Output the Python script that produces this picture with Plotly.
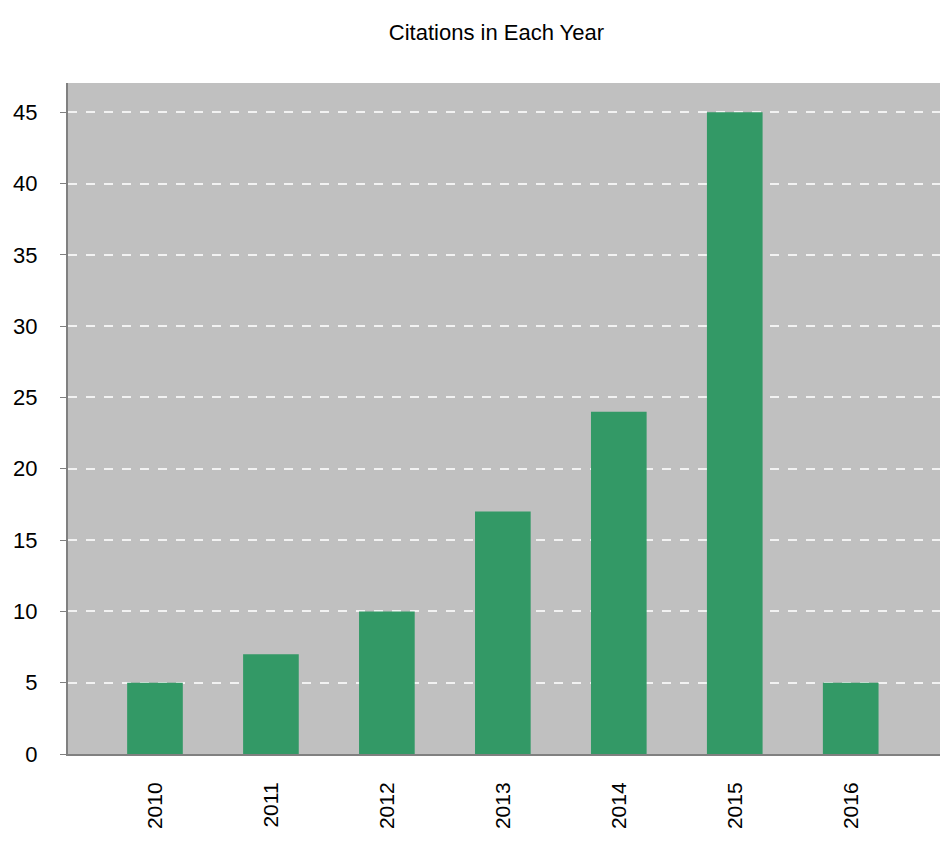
import plotly.graph_objects as go

years = ["2010", "2011", "2012", "2013", "2014", "2015", "2016"]
citations = [5, 7, 10, 17, 24, 45, 5]
y_ticks = [0, 5, 10, 15, 20, 25, 30, 35, 40, 45]

fig = go.Figure(go.Bar(x=years, y=citations, marker=dict(color="#339966", line=dict(width=0)), width=0.48))

fig.update_layout(
    width=942, height=841,
    margin=dict(l=68, r=2, t=83, b=87),
    paper_bgcolor="white",
    plot_bgcolor="#c0c0c0",
    font=dict(family="Liberation Sans, Arial, sans-serif", color="black"),
    title=dict(text="Citations in Each Year", x=0.527, xanchor="center", y=0.962, yanchor="middle",
               font=dict(size=22, color="black")),
    showlegend=False,
)
fig.update_xaxes(type="category", range=[-0.75, 6.77], tickangle=-90, tickfont=dict(size=21),
                 showline=True, linecolor="#808080", linewidth=2, ticks="", showgrid=False, ticklabelstandoff=18)
fig.update_yaxes(range=[0, 47.05], tickvals=y_ticks, tickfont=dict(size=22),
                 showline=True, linecolor="#808080", linewidth=2, ticks="outside", ticklen=6, tickcolor="#808080",
                 ticklabelstandoff=18,
                 showgrid=True, gridcolor="#f2f2f2", griddash="dash", gridwidth=1.5, zeroline=False)

fig.write_html("out.html")
